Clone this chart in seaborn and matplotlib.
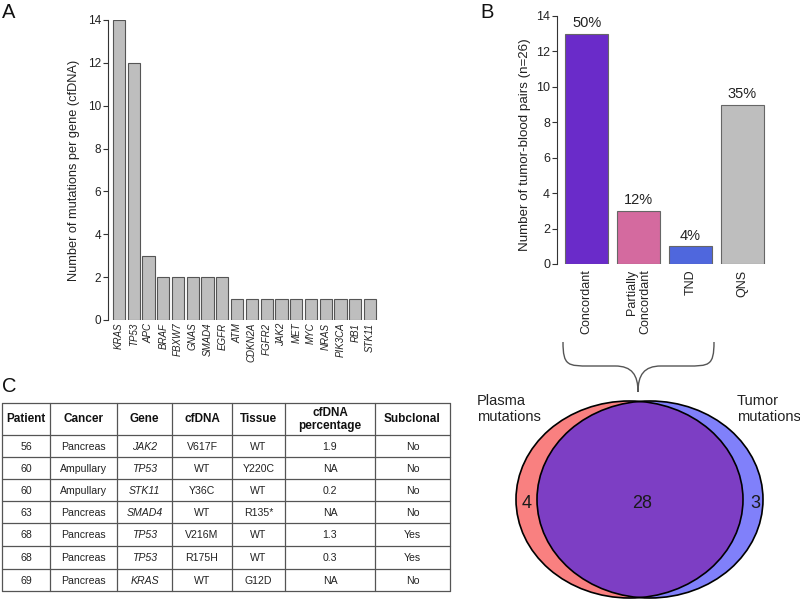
import numpy as np
import pandas as pd
import matplotlib
matplotlib.use('Agg')
import matplotlib.pyplot as plt
import seaborn as sns
from matplotlib.patches import Ellipse, PathPatch
from matplotlib.path import Path

# panel A
genes = ['KRAS', 'TP53', 'APC', 'BRAF', 'FBXW7', 'GNAS', 'SMAD4', 'EGFR', 'ATM',
         'CDKN2A', 'FGFR2', 'JAK2', 'MET', 'MYC', 'NRAS', 'PIK3CA', 'RB1', 'STK11']
gene_counts = [14, 12, 3, 2, 2, 2, 2, 2, 1, 1, 1, 1, 1, 1, 1, 1, 1, 1]

# panel B
pair_groups = ['Concordant', 'Partially\nConcordant', 'TND', 'QNS']
pair_counts = [13, 3, 1, 9]
pair_pcts = ['50%', '12%', '4%', '35%']
pair_colors = ['#6A2BC9', '#D46A9F', '#4F67DD', '#BEBEBE']

# venn
plasma_only = 4
shared = 28
tumor_only = 3

# panel C
table_cols = ['Patient', 'Cancer', 'Gene', 'cfDNA', 'Tissue', 'cfDNA\npercentage', 'Subclonal']
patients = [56, 60, 60, 63, 68, 68, 69]
cancers = ['Pancreas', 'Ampullary', 'Ampullary', 'Pancreas', 'Pancreas', 'Pancreas', 'Pancreas']
table_genes = ['JAK2', 'TP53', 'STK11', 'SMAD4', 'TP53', 'TP53', 'KRAS']
cfdna = ['V617F', 'WT', 'Y36C', 'WT', 'V216M', 'R175H', 'WT']
tissue = ['WT', 'Y220C', 'WT', 'R135*', 'WT', 'WT', 'G12D']
cfdna_pct = ['1.9', 'NA', '0.2', 'NA', '1.3', '0.3', 'NA']
subclonal = ['No', 'No', 'No', 'No', 'Yes', 'Yes', 'No']

sns.set_theme(style='ticks')
plt.rcParams['font.family'] = ['Liberation Sans', 'DejaVu Sans']
W, H = 800, 603
fig = plt.figure(figsize=(8, 6.03), dpi=100)


def px_axes(x0, y0, x1, y1):
    return fig.add_axes([x0 / W, 1 - y1 / H, (x1 - x0) / W, (y1 - y0) / H])


def r_style(ax, ysize):
    for s in ['top', 'right', 'bottom']:
        ax.spines[s].set_visible(False)
    ax.spines['left'].set_bounds(0, 14)
    ax.spines['left'].set_color('#333333')
    ax.spines['left'].set_linewidth(0.8)
    ax.set_ylim(0, 14)
    ax.set_yticks(range(0, 15, 2))
    ax.tick_params(axis='y', length=3.5, width=0.8, color='#333333',
                   labelsize=ysize, pad=1.5, labelcolor='#222222')
    ax.set_facecolor('none')


# ---- A
axA = px_axes(108, 20, 381, 320)
sns.barplot(x=genes, y=gene_counts, color='#BEBEBE', saturation=1,
            edgecolor='#555555', linewidth=0.8, width=0.833, ax=axA)
axA.set_xlim(-0.737, 17.737)
r_style(axA, 8.5)
axA.tick_params(axis='x', length=0, pad=2, labelsize=7, labelcolor='#222222')
for lab in axA.get_xticklabels():
    lab.set_rotation(90)
    lab.set_style('italic')
axA.set_ylabel('Number of mutations per gene (cfDNA)', fontsize=9.2, va='center', color='#222222')
axA.yaxis.set_label_coords(-0.125, 0.5)

# ---- B
axB = px_axes(557, 16, 772, 264)
sns.barplot(x=pair_groups, y=pair_counts, hue=pair_groups, palette=pair_colors,
            legend=False, saturation=1, edgecolor='#666666', linewidth=0.8,
            width=0.833, ax=axB)
axB.set_xlim(-0.57, 3.57)
r_style(axB, 9)
axB.tick_params(axis='x', length=0, pad=4, labelsize=9, labelcolor='#222222')
for lab in axB.get_xticklabels():
    lab.set_rotation(90)
    lab.set_multialignment('right')
for i, (c, p) in enumerate(zip(pair_counts, pair_pcts)):
    axB.text(i, c + 0.2, p, ha='center', va='bottom', fontsize=10.5, color='#222222')
axB.set_ylabel('Number of tumor-blood pairs (n=26)', fontsize=9.6, va='center', color='#222222')
axB.yaxis.set_label_coords(-0.151, 0.48)

# ---- overlay in pixel coords
axO = fig.add_axes([0, 0, 1, 1])
axO.set_xlim(0, W)
axO.set_ylim(H, 0)
axO.set_axis_off()

for lab, (x, y) in zip('ABC', [(2, 3), (480, 3), (2, 377)]):
    axO.text(x, y, lab, fontsize=14.5, ha='left', va='top', color='#111111')

# table
df = pd.DataFrame({'Patient': patients, 'Cancer': cancers, 'Gene': table_genes,
                   'cfDNA': cfdna, 'Tissue': tissue, 'cfDNA\npercentage': cfdna_pct,
                   'Subclonal': subclonal})
col_edges = [2, 50, 117, 172, 232, 285, 375, 450]
row_edges = [403, 435, 457, 479, 501, 523, 546, 569, 591]
for y in row_edges:
    axO.plot([col_edges[0], col_edges[-1]], [y, y], color='#555555', lw=0.9)
for x in col_edges:
    axO.plot([x, x], [row_edges[0], row_edges[-1]], color='#555555', lw=0.9)
for j, col in enumerate(table_cols):
    cx = (col_edges[j] + col_edges[j + 1]) / 2
    axO.text(cx, (row_edges[0] + row_edges[1]) / 2 + 0.5, col, ha='center', va='center',
             fontsize=8.5, fontweight='bold', linespacing=1.0, color='#111111')
    for i, val in enumerate(df[col]):
        cy = (row_edges[i + 1] + row_edges[i + 2]) / 2 + 0.5
        axO.text(cx, cy, str(val), ha='center', va='center', fontsize=7.6,
                 style='italic' if col == 'Gene' else 'normal', color='#222222')

# venn
red = Ellipse((629.5, 499.5), 227, 197, facecolor='#F98080', edgecolor='none')
blue = Ellipse((650, 499.5), 226, 197, facecolor='#8080FA', edgecolor='none')
axO.add_patch(red)
axO.add_patch(blue)
mid = Ellipse((650, 499.5), 226, 197, facecolor='#7D3EC4', edgecolor='none')
axO.add_patch(mid)
mid.set_clip_path(red)
for e in [Ellipse((629.5, 499.5), 227, 197), Ellipse((650, 499.5), 226, 197)]:
    e.set_facecolor('none')
    e.set_edgecolor('black')
    e.set_linewidth(1.2)
    axO.add_patch(e)
axO.text(527, 503, str(plasma_only), ha='center', va='center', fontsize=13, color='#1a1a1a')
axO.text(642, 503, str(shared), ha='center', va='center', fontsize=13, color='#1a1a1a')
axO.text(755, 503, str(tumor_only), ha='center', va='center', fontsize=13, color='#1a1a1a')
axO.text(477, 394, 'Plasma\nmutations', ha='left', va='top', fontsize=10.5,
         linespacing=1.15, color='#222222')
axO.text(737, 394, 'Tumor\nmutations', ha='left', va='top', fontsize=10.5,
         linespacing=1.15, color='#222222')

# brace
verts = [(563, 342), (563, 366), (568, 366), (590, 366), (615, 366),
         (632, 366), (638, 375), (638, 392),
         (638, 375), (644, 366), (661, 366), (687, 366),
         (709, 366), (714, 366), (714, 342)]
codes = [Path.MOVETO, Path.CURVE4, Path.CURVE4, Path.CURVE4, Path.LINETO,
         Path.CURVE4, Path.CURVE4, Path.CURVE4,
         Path.CURVE4, Path.CURVE4, Path.CURVE4, Path.LINETO,
         Path.CURVE4, Path.CURVE4, Path.CURVE4]
axO.add_patch(PathPatch(Path(verts, codes), facecolor='none', edgecolor='#555555', lw=1.0))

fig.savefig('out.png', dpi=100)
